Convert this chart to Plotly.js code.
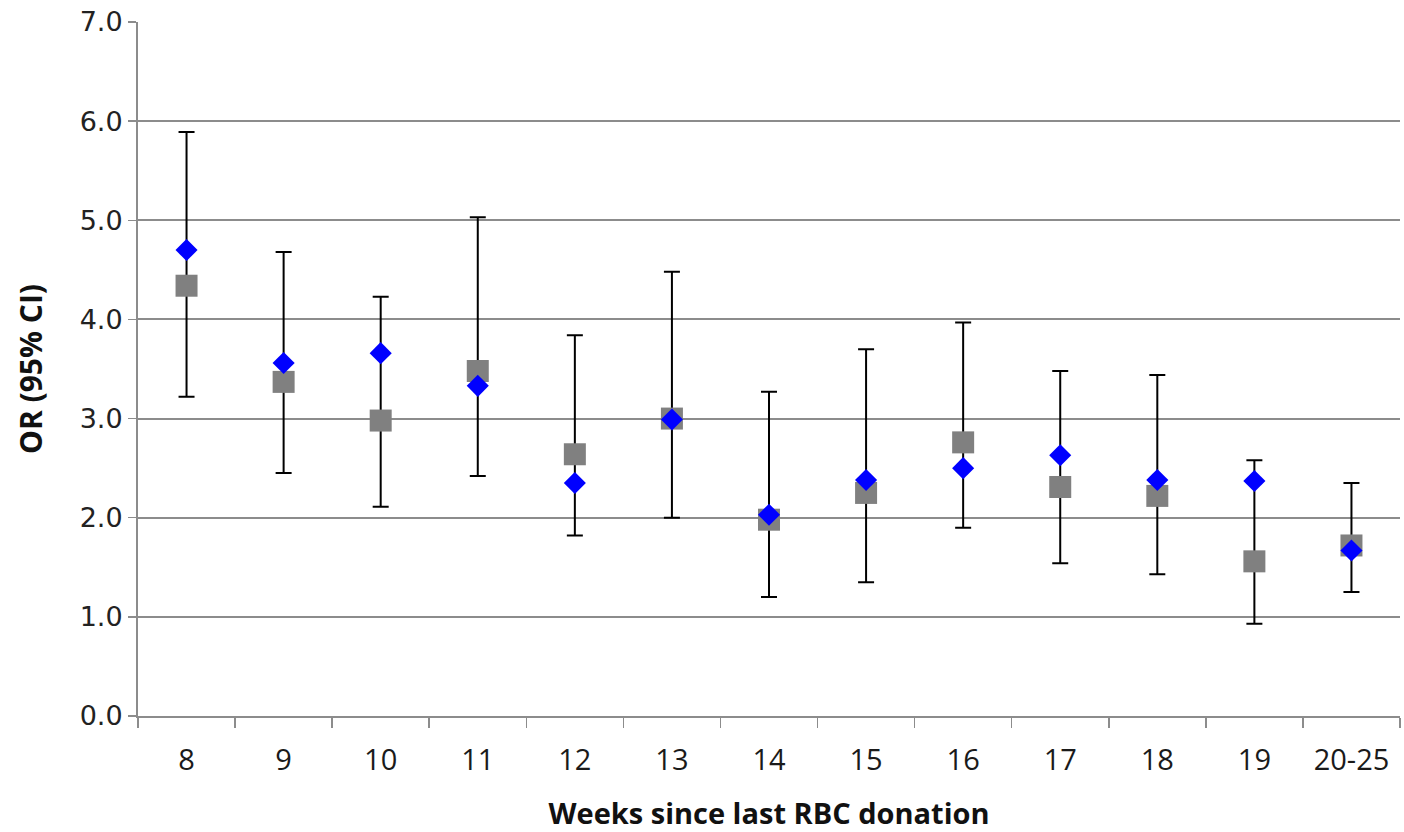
<!DOCTYPE html>
<html>
<head>
<meta charset="utf-8">
<script src="https://cdn.plot.ly/plotly-3.0.1.min.js"></script>
<style>html,body{margin:0;padding:0;background:#fff;}#chart{width:1404px;height:832px;}</style>
</head>
<body>
<div id="chart"></div>
<script>
const weeks = ["8","9","10","11","12","13","14","15","16","17","18","19","20-25"];
const orSquare = [4.34, 3.37, 2.98, 3.48, 2.64, 3.00, 1.98, 2.25, 2.76, 2.31, 2.22, 1.56, 1.72];
const ciLower  = [3.22, 2.45, 2.11, 2.42, 1.82, 2.00, 1.20, 1.35, 1.90, 1.54, 1.43, 0.93, 1.25];
const ciUpper  = [5.89, 4.68, 4.23, 5.03, 3.84, 4.48, 3.27, 3.70, 3.97, 3.48, 3.44, 2.58, 2.35];
const orDiamond = [4.70, 3.56, 3.66, 3.33, 2.35, 2.99, 2.03, 2.38, 2.50, 2.63, 2.38, 2.37, 1.67];
const yTicks = [0,1,2,3,4,5,6,7];
const yTickText = ["0.0","1.0","2.0","3.0","4.0","5.0","6.0","7.0"];

const plus = ciUpper.map((u,i)=>u-orSquare[i]);
const minus = ciLower.map((l,i)=>orSquare[i]-l);

const traces = [
  {
    x: weeks, y: orSquare, type: 'scatter', mode: 'markers',
    marker: {symbol: 'square', size: 22, color: '#808080'},
    error_y: {type: 'data', symmetric: false, array: plus, arrayminus: minus,
              color: '#000000', thickness: 2, width: 8},
    hoverinfo: 'x+y'
  },
  {
    x: weeks, y: orDiamond, type: 'scatter', mode: 'markers',
    marker: {symbol: 'diamond', size: 17, color: '#0000FF'},
    hoverinfo: 'x+y'
  }
];

const layout = {
  width: 1404, height: 832,
  margin: {l: 138, r: 4, t: 22, b: 116},
  paper_bgcolor: '#ffffff', plot_bgcolor: '#ffffff',
  showlegend: false,
  xaxis: {
    type: 'category',
    showgrid: false, zeroline: false,
    showline: true, linecolor: '#8c8c8c', linewidth: 2,
    ticks: 'outside', tickson: 'boundaries', ticklen: 10, tickcolor: '#8c8c8c', tickwidth: 1.5,
    tickfont: {family: 'Open Sans, sans-serif', size: 29, color: '#1a1a1a'},
    ticklabelstandoff: 17,
    title: {text: 'Weeks since last RBC donation',
            font: {family: 'Open Sans, sans-serif', size: 29, color: '#111', weight: 'bold'},
            standoff: 29},
    range: [-0.5, 12.5]
  },
  yaxis: {
    range: [0, 7], tickvals: yTicks, ticktext: yTickText,
    showgrid: true, gridcolor: '#8c8c8c', gridwidth: 2,
    zeroline: false,
    showline: true, linecolor: '#8c8c8c', linewidth: 2,
    ticks: 'outside', ticklen: 8, tickcolor: '#8c8c8c', tickwidth: 1.5,
    tickfont: {family: 'DejaVu Sans', size: 27, color: '#222'},
    title: {text: 'OR (95% CI)',
            font: {family: 'Open Sans, sans-serif', size: 30, color: '#111', weight: 'bold'},
            standoff: 28}
  }
};

Plotly.newPlot('chart', traces, layout, {displayModeBar: false, staticPlot: true});
</script>
</body>
</html>
